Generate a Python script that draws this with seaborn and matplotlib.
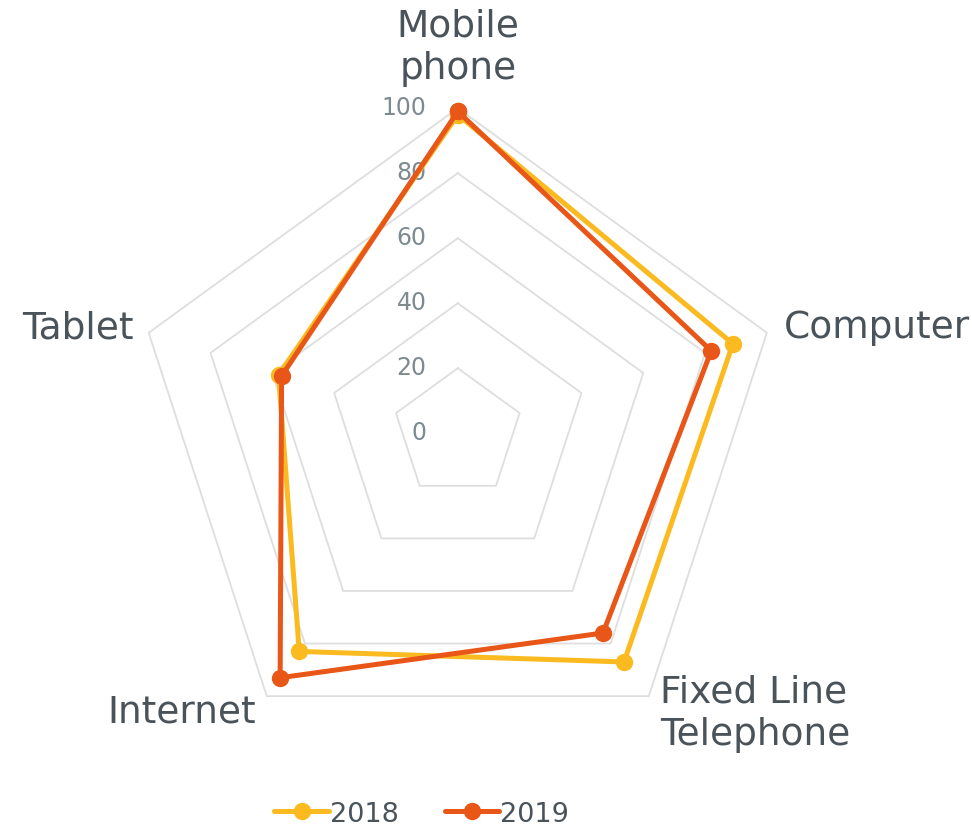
import numpy as np
import pandas as pd
import matplotlib
matplotlib.use("Agg")
import matplotlib.pyplot as plt
from matplotlib.lines import Line2D
import seaborn as sns

# Household access to devices/services (%)
categories = ["Mobile\nphone", "Computer", "Fixed Line\nTelephone", "Internet", "Tablet"]
values_2018 = [98, 89, 87, 83, 58]
values_2019 = [99, 82, 76, 93, 57]
years = ["2018", "2019"]
ring_values = [20, 40, 60, 80, 100]
tick_labels = ["0", "20", "40", "60", "80", "100"]

colors = {"2018": "#FBBA1F", "2019": "#E85618"}
grid_color = "#DEDEDE"
label_color = "#4A5359"
tick_color = "#7D8B91"

sns.set_theme(style="white")
plt.rcParams["font.family"] = ["DejaVu Sans"]

n = len(categories)
theta = np.linspace(0, 2 * np.pi, n, endpoint=False)
theta_closed = np.append(theta, 2 * np.pi)

rows = []
for year, vals in zip(years, [values_2018, values_2019]):
    closed = list(vals) + [vals[0]]
    for t, v in zip(theta_closed, closed):
        rows.append({"year": year, "theta": t, "value": v})
df = pd.DataFrame(rows)

fig = plt.figure(figsize=(9.72, 8.28), dpi=100)
cx, cy, R = 457.8, 434.2, 325.0
W, H = 972.0, 828.0
ax = fig.add_axes([(cx - R) / W, (H - cy - R) / H, 2 * R / W, 2 * R / H], projection="polar")
ax.set_theta_offset(np.pi / 2)
ax.set_theta_direction(-1)
ax.set_ylim(0, 100)
ax.grid(False)
ax.set_xticks([])
ax.set_yticks([])
ax.spines["polar"].set_visible(False)
ax.patch.set_alpha(0)

# pentagonal grid rings
for r in ring_values:
    ax.plot(theta_closed, [r] * len(theta_closed), color=grid_color, lw=1.3, zorder=1)

sns.lineplot(
    data=df, x="theta", y="value", hue="year", palette=colors,
    sort=False, estimator=None, units="year", marker="o", markersize=12.5,
    markeredgewidth=0, linewidth=3.6, legend=False, ax=ax, zorder=3,
)
for ln in ax.lines:
    ln.set_clip_on(False)
ax.set_xlabel("")
ax.set_ylabel("")

# radial value labels along the top axis
for lab, r in zip(tick_labels, [0] + ring_values):
    ax.annotate(lab, xy=(0, r), xytext=(-22.5, 1), textcoords="offset points",
                ha="right", va="center", fontsize=17, color=tick_color,
                annotation_clip=False, zorder=2)

# category labels around the chart
label_specs = [
    (0, 16, "center", "bottom"),
    (12, 4, "left", "center"),
    (8, -12, "left", "center"),
    (-8, -11, "right", "center"),
    (-11, 4, "right", "center"),
]
for cat, t, (dx, dy, ha, va) in zip(categories, theta, label_specs):
    ax.annotate(cat, xy=(t, 100), xytext=(dx, dy), textcoords="offset points",
                ha=ha, va=va, fontsize=27, color=label_color, linespacing=1.22,
                annotation_clip=False)

handles = [
    Line2D([], [], color=colors[y], lw=3.6, marker="o", markersize=12.5, markeredgewidth=0)
    for y in years
]
fig.legend(handles, years, loc="lower center", bbox_to_anchor=(0.434, -0.029), ncol=2,
           frameon=False, fontsize=19.5, handlelength=2.0, handletextpad=0.05,
           columnspacing=1.7, labelcolor=label_color)

fig.savefig("out.png", dpi=100)
